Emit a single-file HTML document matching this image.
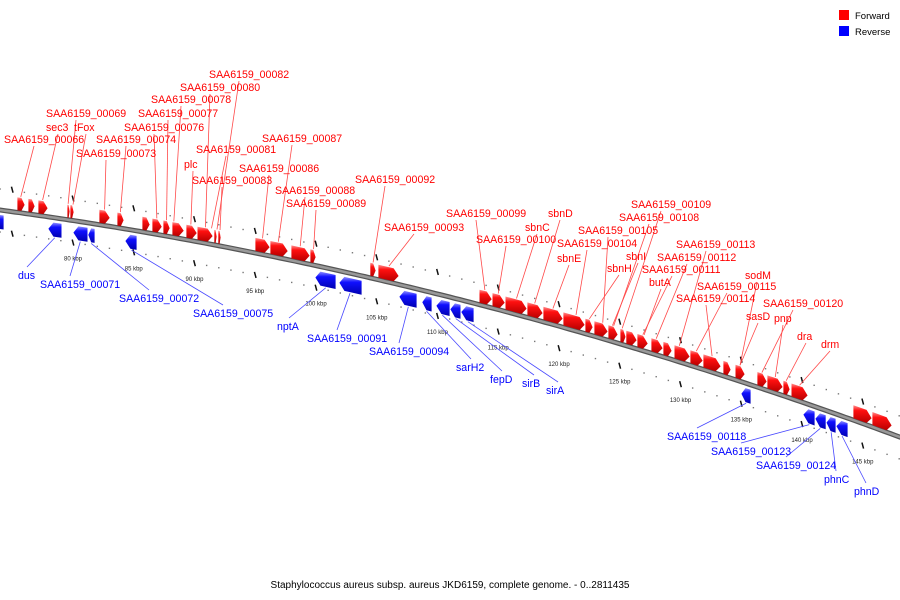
<!DOCTYPE html>
<html><head><meta charset="utf-8"><style>
body{margin:0;background:#fff}
svg{display:block;font-family:"Liberation Sans",sans-serif}
</style></head><body>
<svg id="map" width="900" height="600" viewBox="0 0 900 600" xmlns="http://www.w3.org/2000/svg">
<defs>
<linearGradient id="gr" x1="0" y1="0" x2="0" y2="1"><stop offset="0" stop-color="#ff9090"/><stop offset="0.3" stop-color="#ff1010"/><stop offset="1" stop-color="#b80000"/></linearGradient>
<linearGradient id="gb" x1="0" y1="0" x2="0" y2="1"><stop offset="0" stop-color="#9090ff"/><stop offset="0.3" stop-color="#1010ff"/><stop offset="1" stop-color="#0000b0"/></linearGradient>
</defs>
<g id="ticks"></g>
<g id="backbone"></g>
<g id="leaders"></g>
<g id="genes"></g>
<g id="labels"></g>
<g>
<rect x="839" y="10" width="10" height="10" fill="#f00"/>
<text x="855" y="19" font-size="9.5">Forward</text>
<rect x="839" y="26" width="10" height="10" fill="#00f"/>
<text x="855" y="35" font-size="9.5">Reverse</text>
</g>
<text x="450" y="588" font-size="10" text-anchor="middle">Staphylococcus aureus subsp. aureus JKD6159, complete genome. - 0..2811435</text>
</svg>
<script>
// data (kbp)
const fwdStart=[75.39,76.30,77.12,79.51,79.75,82.14,83.62,85.68,86.50,87.41,88.15,89.30,90.21,91.60,91.93,94.98,96.21,97.94,99.51,104.44,105.10,113.42,114.49,115.56,117.37,118.68,120.33,122.14,122.88,124.03,125.02,125.51,126.42,127.57,128.56,129.47,130.78,131.85,133.50,134.49,136.30,137.12,138.44,139.10,144.20,145.76];
const fwdEnd=[76.05,76.87,77.94,79.75,80.08,83.05,84.20,86.34,87.33,87.98,89.14,90.21,91.52,91.85,92.18,96.21,97.70,99.51,100.00,104.94,106.83,114.49,115.56,117.37,118.68,120.33,122.14,122.80,124.03,124.86,125.51,126.42,127.33,128.56,129.30,130.78,131.85,133.33,134.16,135.31,137.12,138.44,139.01,140.49,145.76,147.41];
const revStart=[73.60,77.94,80.00,81.23,84.28,99.92,101.89,106.83,108.72,109.88,111.03,111.93,134.98,140.08,141.07,141.98,142.80];
const revEnd=[74.32,79.09,81.23,81.81,85.27,101.65,103.79,108.31,109.55,111.03,111.93,113.00,135.80,141.07,141.98,142.80,143.79];
const tickKbp=[75,80,85,90,95,100,105,110,115,120,125,130,135,140,145];
const tickLabels=["","80 kbp","85 kbp","90 kbp","95 kbp","100 kbp","105 kbp","110 kbp","115 kbp","120 kbp","125 kbp","130 kbp","135 kbp","140 kbp","145 kbp"];
const fwdNames=["SAA6159_00082","SAA6159_00080","SAA6159_00078","SAA6159_00069","SAA6159_00077","sec3","tFox","SAA6159_00076","SAA6159_00066","SAA6159_00074","SAA6159_00087","SAA6159_00073","SAA6159_00081","plc","SAA6159_00086","SAA6159_00083","SAA6159_00092","SAA6159_00088","SAA6159_00089","SAA6159_00099","sbnD","SAA6159_00109","SAA6159_00108","SAA6159_00093","SAA6159_00105","SAA6159_00100","sbnC","SAA6159_00104","SAA6159_00113","sbnE","SAA6159_00112","sbnH","sbnI","SAA6159_00111","butA","sodM","SAA6159_00115","SAA6159_00114","SAA6159_00120","sasD","pnp","dra","drm"];
const fwdTarget=[91.85,90.9,88.3,79.6,87.7,77.5,80.0,86.9,75.7,83.9,96.9,82.6,91.4,89.7,95.6,92.1,104.7,98.7,99.8,113.9,118.0,125.2,124.5,106.0,123.6,115.0,116.5,121.4,129.9,119.5,128.0,122.5,124.4,126.9,127.0,134.9,131.3,132.6,136.7,134.9,137.8,138.7,139.8];
const fwdLabelPos=[[209,74],[180,87],[151,99],[46,113],[138,113],[46,127],[74,127],[124,127],[4,139],[96,139],[262,138],[76,153],[196,149],[184,164],[239,168],[192,180],[355,179],[275,190],[286,203],[446,213],[548,213],[631,204],[619,217],[384,227],[578,230],[476,239],[525,227],[557,243],[676,244],[557,258],[657,257],[607,268],[626,256],[642,269],[649,282],[745,275],[697,286],[676,298],[763,303],[746,316],[774,318],[797,336],[821,344]];
const revNames=["dus","SAA6159_00071","SAA6159_00072","SAA6159_00075","nptA","SAA6159_00091","SAA6159_00094","sarH2","fepD","sirB","sirA","SAA6159_00118","SAA6159_00123","SAA6159_00124","phnC","phnD"];
const revTarget=[78.5,80.6,81.5,84.8,100.8,102.8,107.6,109.1,110.4,111.5,112.5,135.4,140.6,141.5,142.4,143.3];
const revLabelPos=[[18,275],[40,284],[119,298],[193,313],[277,326],[307,338],[369,351],[456,367],[490,379],[522,383],[546,390],[667,436],[711,451],[756,465],[824,479],[854,491]];

const NS="http://www.w3.org/2000/svg";
const X=k=>73+(k-80)*12.15;
const C=x=>210+0.1348*x+1.306e-4*x*x;
function mk(tag,attrs,parent){const e=document.createElementNS(NS,tag);for(const k in attrs)e.setAttribute(k,attrs[k]);parent.appendChild(e);return e;}
const gT=document.getElementById('ticks'),gB=document.getElementById('backbone'),gL=document.getElementById('leaders'),gG=document.getElementById('genes'),gX=document.getElementById('labels');

let pts=[];for(let x=-5;x<=905;x+=5)pts.push(x+','+C(x).toFixed(1));
const bb1=mk('polyline',{points:pts.join(' '),fill:'none',stroke:'#555','stroke-width':5},gB);


const bb2=mk('polyline',{points:pts.join(' '),fill:'none',stroke:'#999','stroke-width':2.5},gB);



for(let k=74;k<=148;k++){const x=X(k);if(x<-2||x>902)continue;
 if(tickKbp.indexOf(k)>=0)continue;
 for(const off of [-21,22]){const d=mk('rect',{x:x-0.7,y:C(x)+off-0.7,width:1.4,height:1.4,fill:'#777'},gT);
 
 }}
tickKbp.forEach((k,i)=>{const x=X(k),c=C(x);
 for(const off of [-22,22]){const t=mk('line',{x1:x-0.8,y1:c+off-3,x2:x+0.8,y2:c+off+3,stroke:'#111','stroke-width':1.5},gT);
 
 }
 if(tickLabels[i]){
 const tl=mk('text',{x:x,y:c+40,'font-size':6,'text-anchor':'middle',fill:'#222'},gT);
 tl.textContent=tickLabels[i];
 
 }
});

function gene(s,e,fwd){
 const x1=X(s)+0.4,x2=X(e)-0.4,a=Math.min(5,(x2-x1)*0.45);
 let p;
 if(fwd){const t=-15,b=-2,m=(t+b)/2;
  p=[[x1,C(x1)+t],[x2-a,C(x2-a)+t],[x2,C(x2)+m],[x2-a,C(x2-a)+b],[x1,C(x1)+b]];}
 else{const t=5,b=19,m=(t+b)/2;
  p=[[x1+a,C(x1+a)+t],[x2,C(x2)+t],[x2,C(x2)+b],[x1+a,C(x1+a)+b],[x1,C(x1)+m]];}
 return mk('polygon',{points:p.map(q=>q[0].toFixed(1)+','+q[1].toFixed(1)).join(' '),fill:fwd?'url(#gr)':'url(#gb)'},gG);
}
fwdStart.forEach((s,i)=>{const g=gene(s,fwdEnd[i],true);
 
 });
revStart.forEach((s,i)=>{const g=gene(s,revEnd[i],false);
 
 });

function label(name,pos,tk,fwd){
 const t=mk('text',{x:pos[0],y:pos[1]+4,'font-size':10.6,fill:fwd?'#f00':'#00f'},gX);
 t.textContent=name;
 
 
 const w=name.length*6;
 const sx=pos[0]+Math.min(30,w/2);
 const gx=X(tk),gy=fwd?C(gx)-16:C(gx)+20;
 const sy=fwd?pos[1]+7:pos[1]-8;
 const l=mk('line',{x1:sx,y1:sy,x2:gx,y2:gy,stroke:fwd?'#ff4848':'#4848ff','stroke-width':0.8},gL);
 
 
}
fwdNames.forEach((n,i)=>label(n,fwdLabelPos[i],fwdTarget[i],true));
revNames.forEach((n,i)=>label(n,revLabelPos[i],revTarget[i],false));
</script>
</body></html>
